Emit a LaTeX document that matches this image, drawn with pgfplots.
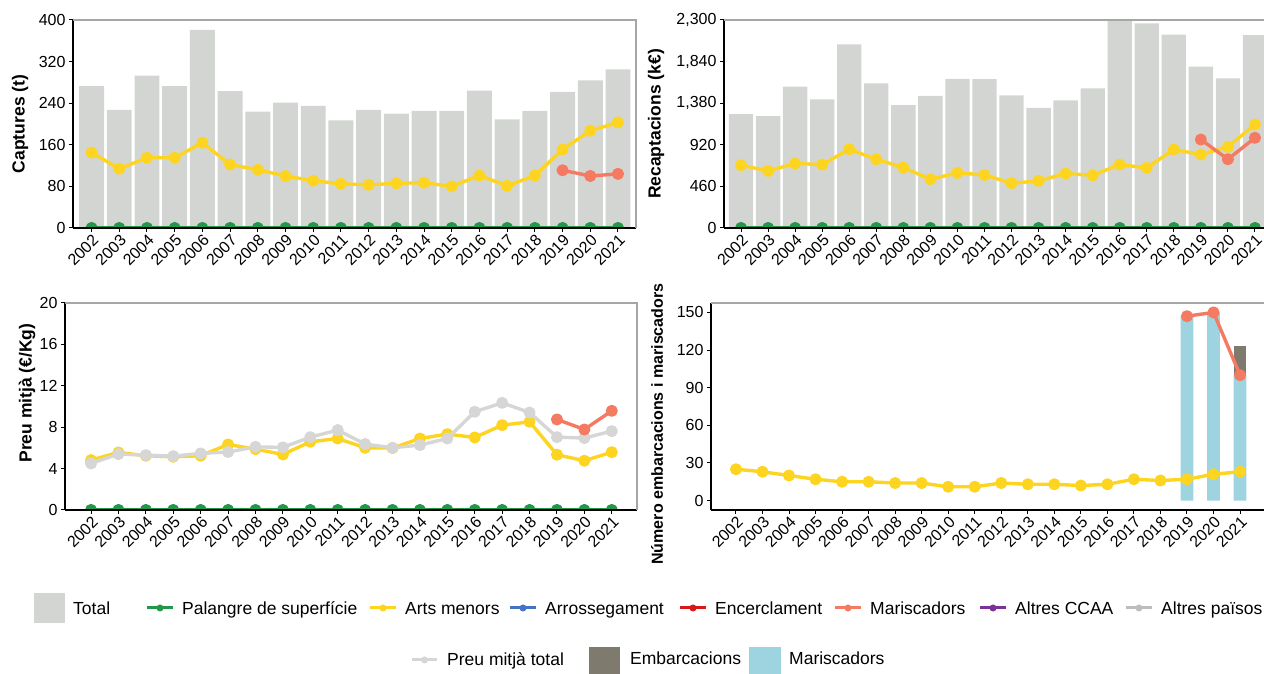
\documentclass[border=0pt]{standalone}
\usepackage{fontspec}
\setmainfont{Liberation Sans}
\usepackage{pgfplots}
\pgfplotsset{compat=1.18}
\usetikzlibrary{calc}

\definecolor{cTotal}{HTML}{D3D5D2}
\definecolor{cPal}{HTML}{23984A}
\definecolor{cArts}{HTML}{FDD521}
\definecolor{cArr}{HTML}{4472C4}
\definecolor{cEnc}{HTML}{D7191C}
\definecolor{cMar}{HTML}{F47A62}
\definecolor{cCCAA}{HTML}{7B3294}
\definecolor{cPais}{HTML}{BDBDBD}
\definecolor{cPreu}{HTML}{D6D6D6}
\definecolor{cEmb}{HTML}{7F7A6E}
\definecolor{cMarBar}{HTML}{9ED3E0}
\definecolor{cBorder}{HTML}{A6A6A6}

\newcommand\fs{\fontsize{16}{19}\selectfont}
\newcommand\ft{\fontsize{17.5}{21}\selectfont\bfseries}
\newcommand\fl{\fontsize{17.5}{21}\selectfont}

\pgfplotsset{
  panel/.style={
    scale only axis, anchor=south west,
    axis x line*=bottom, axis y line*=left,
    axis line style={black, line width=1.5pt},
    tick align=outside, major tick length=4pt,
    tick style={black, line width=1pt},
    xtick={2002,...,2021},
    scaled ticks=false,
    /pgf/number format/assume math mode=true,
    x tick label style={rotate=45, anchor=north east, inner sep=1pt, font=\fs,
      /pgf/number format/1000 sep=},
    y tick label style={font=\fs, /pgf/number format/1000 sep={,}},
    clip marker paths=true, axis on top,
    enlargelimits=false,
    extra description/.code={\draw[cBorder, line width=1.2pt]
      (rel axis cs:0,1) -- (rel axis cs:1,1) -- (rel axis cs:1,0);},
    ylabel style={anchor=center, font=\ft},
  },
  lin/.style={line width=3.4pt, mark=*, mark size=4.3pt,
    mark options={solid, draw=none}, line join=round},
}

\begin{document}
\begin{tikzpicture}[x=1pt,y=1pt]
\useasboundingbox (0,0) rectangle (1264,674);

% Captures
\begin{axis}[panel, at={(73pt,446pt)}, width=563pt, height=208pt,
  xmin=2001.33, xmax=2021.65, ymin=0, ymax=400, ytick={0,80,...,400},
  ylabel={Captures (t)},
  ylabel style={at={($(rel axis cs:0,0.5)+(-53pt,0pt)$)}}]
\addplot[ybar, bar width=0.9, fill=cTotal, draw=none] coordinates {
 (2002,273) (2003,227) (2004,293) (2005,273) (2006,381) (2007,263) (2008,224)
 (2009,241) (2010,235) (2011,207) (2012,227) (2013,220) (2014,225) (2015,225)
 (2016,264) (2017,209) (2018,225) (2019,262) (2020,284) (2021,305)};
\addplot[cPal, lin] coordinates {
 (2002,0) (2003,0) (2004,0) (2005,0) (2006,0) (2007,0) (2008,0) (2009,0) (2010,0) (2011,0)
 (2012,0) (2013,0) (2014,0) (2015,0) (2016,0) (2017,0) (2018,0) (2019,0) (2020,0) (2021,0)};
\addplot[cArts, lin] coordinates {
 (2002,145) (2003,114) (2004,135) (2005,135) (2006,164) (2007,122) (2008,112)
 (2009,100) (2010,91) (2011,85) (2012,83) (2013,86) (2014,87) (2015,80)
 (2016,101) (2017,81) (2018,101) (2019,151) (2020,187) (2021,203)};
\addplot[cMar, lin] coordinates {(2019,111) (2020,100) (2021,104)};
\end{axis}

% Recaptacions
\begin{axis}[panel, at={(724pt,446pt)}, width=548pt, height=208pt,
  xmin=2001.37, xmax=2021.63, ymin=0, ymax=2300, ytick={0,460,...,2300},
  ylabel={Recaptacions (k€)},
  ylabel style={at={($(rel axis cs:0,0.5)+(-68pt,0pt)$)}}]
\addplot[ybar, bar width=0.9, fill=cTotal, draw=none] coordinates {
 (2002,1259) (2003,1237) (2004,1562) (2005,1421) (2006,2030) (2007,1599) (2008,1359)
 (2009,1462) (2010,1650) (2011,1647) (2012,1466) (2013,1329) (2014,1410) (2015,1543)
 (2016,2330) (2017,2263) (2018,2138) (2019,1783) (2020,1654) (2021,2134)};
\addplot[cPal, lin] coordinates {
 (2002,0) (2003,0) (2004,0) (2005,0) (2006,0) (2007,0) (2008,0) (2009,0) (2010,0) (2011,0)
 (2012,0) (2013,0) (2014,0) (2015,0) (2016,0) (2017,0) (2018,0) (2019,0) (2020,0) (2021,0)};
\addplot[cArts, lin] coordinates {
 (2002,694) (2003,631) (2004,713) (2005,701) (2006,871) (2007,760) (2008,668)
 (2009,539) (2010,609) (2011,587) (2012,495) (2013,521) (2014,602) (2015,583)
 (2016,701) (2017,665) (2018,868) (2019,812) (2020,897) (2021,1144)};
\addplot[cMar, lin] coordinates {(2019,978) (2020,760) (2021,997)};
\end{axis}

% Preu mitja
\begin{axis}[panel, at={(65pt,164pt)}, width=572pt, height=207pt,
  xmin=2001.05, xmax=2021.92, ymin=0, ymax=20, ytick={0,4,...,20},
  ylabel={Preu mitjà (€/Kg)},
  ylabel style={at={($(rel axis cs:0,0.565)+(-38pt,0pt)$)}}]
\addplot[cPal, lin] coordinates {
 (2002,0) (2003,0) (2004,0) (2005,0) (2006,0) (2007,0) (2008,0) (2009,0) (2010,0) (2011,0)
 (2012,0) (2013,0) (2014,0) (2015,0) (2016,0) (2017,0) (2018,0) (2019,0) (2020,0) (2021,0)};
\addplot[cArts, lin] coordinates {
 (2002,4.82) (2003,5.56) (2004,5.24) (2005,5.14) (2006,5.24) (2007,6.33) (2008,5.88)
 (2009,5.37) (2010,6.59) (2011,6.91) (2012,6.01) (2013,5.98) (2014,6.91) (2015,7.33)
 (2016,7.01) (2017,8.20) (2018,8.52) (2019,5.34) (2020,4.76) (2021,5.59)};
\addplot[cPreu, lin] coordinates {
 (2002,4.50) (2003,5.40) (2004,5.30) (2005,5.20) (2006,5.47) (2007,5.60) (2008,6.10)
 (2009,6.05) (2010,7.04) (2011,7.72) (2012,6.37) (2013,6.01) (2014,6.27) (2015,6.91)
 (2016,9.49) (2017,10.35) (2018,9.42) (2019,7.04) (2020,6.95) (2021,7.62)};
\addplot[cMar, lin] coordinates {(2019,8.75) (2020,7.78) (2021,9.58)};
\end{axis}

% Numero embarcacions: stacked bars
\begin{axis}[scale only axis, anchor=south west, at={(711pt,164pt)},
  width=554pt, height=207pt, hide axis,
  xmin=2001.06, xmax=2021.94, ymin=-7.5, ymax=157.5,
  ybar stacked, bar width=0.48]
\addplot[fill=cMarBar, draw=none] coordinates {(2019,147) (2020,150) (2021,100)};
\addplot[fill=cEmb, draw=none] coordinates {(2019,0) (2020,0) (2021,23)};
\end{axis}
\begin{axis}[panel, at={(711pt,164pt)}, width=554pt, height=207pt,
  xmin=2001.06, xmax=2021.94, ymin=-7.5, ymax=157.5, ytick={0,30,...,150},
  ylabel={Número embarcacions i mariscadors},
  ylabel style={at={($(rel axis cs:0,0.415)+(-54pt,0pt)$)},
    font=\fontsize{16}{19}\selectfont\bfseries}]
\addplot[cArts, lin] coordinates {
 (2002,25) (2003,23) (2004,20) (2005,17) (2006,15) (2007,15) (2008,14) (2009,14)
 (2010,11) (2011,11) (2012,14) (2013,13) (2014,13) (2015,12) (2016,13) (2017,17)
 (2018,16) (2019,17) (2020,21) (2021,23)};
\addplot[cMar, lin] coordinates {(2019,147) (2020,150) (2021,100)};
\end{axis}

% Legend
\fill[cTotal] (34,51) rectangle (65,81);
\node[anchor=base west, inner sep=0, font=\fl] at (73,59) {Total};
\foreach \c/\x/\t in {cPal/160/Palangre de superfície, cArts/383/Arts menors,
  cArr/523/Arrossegament, cEnc/693/Encerclament, cMar/848/Mariscadors,
  cCCAA/993/Altres CCAA, cPais/1139/Altres països}{
  \draw[\c, line width=3pt] (\x-13,66) -- (\x+13,66);
  \fill[\c] (\x,66) circle (3.5);
  \node[anchor=base west, inner sep=0, font=\fl] at (\x+22,59) {\t};
}
\draw[cPreu, line width=3pt] (412,14) -- (437,14);
\fill[cPreu] (424.5,14) circle (3.5);
\node[anchor=base west, inner sep=0, font=\fl] at (447,8.5) {Preu mitjà total};
\fill[cEmb] (589,-5) rectangle (620,27);
\node[anchor=base west, inner sep=0, font=\fl] at (630,9) {Embarcacions};
\fill[cMarBar] (749,-5) rectangle (781,27);
\node[anchor=base west, inner sep=0, font=\fl] at (789,9) {Mariscadors};
\end{tikzpicture}
\end{document}
